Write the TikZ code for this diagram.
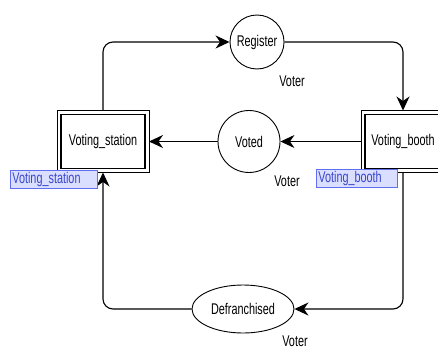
\documentclass[tikz,border=0pt]{standalone}
\usepackage{fontspec}
\usetikzlibrary{arrows.meta,shapes.geometric}
\newfontfamily\diafont[FakeStretch=0.7]{Liberation Sans}
\definecolor{tagfill}{RGB}{218,222,255}
\definecolor{tagline}{RGB}{98,110,240}
\definecolor{tagtext}{RGB}{58,70,205}

\begin{document}
\begin{tikzpicture}[x=1pt, y=-1pt,
		font=\diafont\fontsize{15.5}{16}\selectfont,
		state/.style={draw, circle, line width=0.9pt, inner sep=0pt, minimum size=#1},
		store/.style={draw, line width=1.1pt, inner sep=0pt, outer sep=4pt, minimum height=54pt},
		tag/.style={draw=tagline, fill=tagfill, text=tagtext, line width=0.8pt, anchor=north west, inner xsep=2pt, inner ysep=0pt, minimum height=18pt, align=left},
		conn/.style={line width=1.1pt, rounded corners=10pt, -{Stealth[length=14pt, width=13pt, inset=4.5pt]}}]
			%%%%% START %%%%%
			
			\useasboundingbox (0, 0) rectangle (438, 348);
			
			\node[store, minimum width=84pt] (station) at (103, 141.5) {Voting\_station};
			\draw[line width=0.9pt] (station.north west) rectangle (station.south east);
			\node[store, minimum width=76pt] (booth) at (403, 141.5) {Voting\_booth};
			\draw[line width=0.9pt] (booth.north west) rectangle (booth.south east);
			
			\node[state=54pt] (register) at (257, 42) {Register};
			\node[state=62pt] (voted) at (249, 141.5) {Voted};
			\node[draw, ellipse, line width=0.9pt, inner sep=0pt, minimum width=102pt, minimum height=48pt] (defr) at (243, 309) {Defranchised};
			
			\node (voterA) at (292, 81) {Voter};
			\node (voterB) at (287, 181) {Voter};
			\node (voterC) at (295, 341) {Voter};
			
			\draw[conn] (station.north) |- (register.west);
			\draw[conn] (register.east) -| (booth.north);
			\draw[conn] (booth.west) -- (voted.east);
			\draw[conn] (voted.west) -- (station.east);
			\draw[conn] (booth.south) |- (defr.east);
			\draw[conn] (defr.west) -| (station.south);
			
			\node[tag, text width=83pt] (stationtag) at (10, 170) {Voting\_station};
			\node[tag, text width=77pt] (boothtag) at (316, 169) {Voting\_booth};
			
			%%%%% END %%%%%
\end{tikzpicture}
\end{document}
